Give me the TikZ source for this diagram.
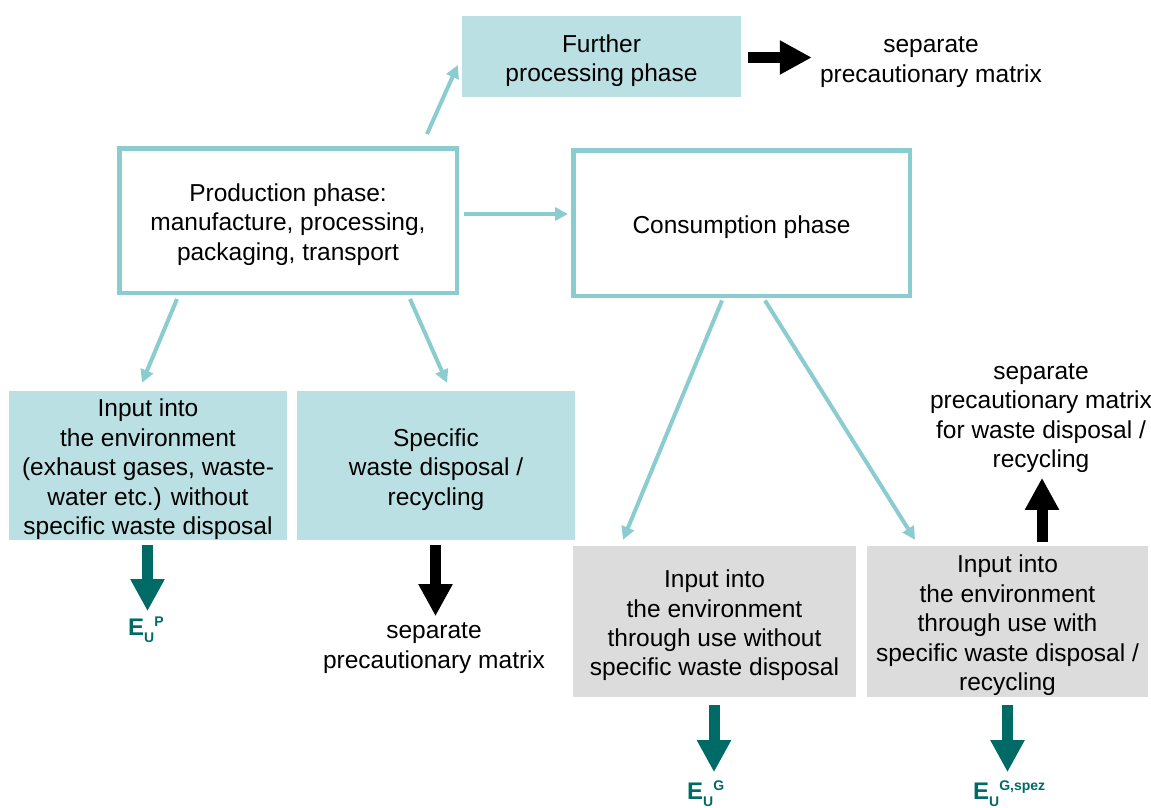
\documentclass[tikz,border=0pt]{standalone}
\usepackage{fontspec}
\setmainfont{Liberation Sans}
\usetikzlibrary{arrows.meta,calc}

\definecolor{boxfill}{HTML}{BBE0E3}
\definecolor{boxline}{HTML}{8ACCCF}
\definecolor{grayfill}{HTML}{DCDCDC}
\definecolor{darkteal}{HTML}{006A66}

% E_U with a superscript, set in bold dark teal
\newcommand{\eulabel}[1]{{\fontsize{24}{24}\selectfont\bfseries E}%
  {\fontsize{14}{14}\selectfont\bfseries\raisebox{-7.5pt}{U}\raisebox{9pt}{#1}}}
% tall strut on the first line so box texts sit a little lower
\newcommand{\topstrut}{\rule{0pt}{25.5pt}}

\tikzset{
  txt/.style={font=\fontsize{24.5}{29.4}\selectfont, align=center, inner sep=0pt},
  outlinebox/.style={txt, draw=boxline, line width=4.5pt, fill=white},
  tealbox/.style={txt, fill=boxfill},
  greybox/.style={txt, fill=grayfill},
  flow/.style={draw=boxline, line width=4pt, -{Triangle[length=13pt,width=13pt]}},
  blockarrow/.style={line width=11pt, -{Triangle[length=32pt,width=32pt]}},
  elabel/.style={text=darkteal, inner sep=0pt, anchor=base west}
}

\begin{document}
\begin{tikzpicture}[x=1pt,y=-1pt]
\useasboundingbox (0,0) rectangle (1151,808);

% phase boxes
\node[outlinebox, minimum width=337.5, minimum height=144.5] (prod) at (288,220.5)
  {\topstrut Production phase:\\manufacture, processing,\\packaging, transport};
\node[outlinebox, minimum width=336.5, minimum height=145.5] (cons) at (741.5,223)
  {\topstrut Consumption phase};
\node[tealbox, minimum width=279, minimum height=81] (further) at (601.5,56.5)
  {\topstrut Further\\processing phase};

% outputs of the production phase
\node[tealbox, minimum width=278, minimum height=149] (inenv) at (148,465.5)
  {\topstrut Input into\\the environment\\(exhaust gases, waste-\\water etc.) without\\specific waste disposal};
\node[tealbox, minimum width=278, minimum height=149] (spec) at (436,465.5)
  {\topstrut Specific\\waste disposal /\\recycling};

% outputs of the consumption phase
\node[greybox, minimum width=283, minimum height=151] (gray1) at (714.5,621.5)
  {\topstrut Input into\\the environment\\through use without\\specific waste disposal};
\node[greybox, minimum width=281, minimum height=151] (gray2) at (1007.5,621.5)
  {\topstrut Input into\\the environment\\through use with\\specific waste disposal /\\recycling};

% separate matrices
\node[txt] (sepTop) at (931,62) {separate\\precautionary matrix};
\node[txt] (sepMid) at (434,648) {separate\\precautionary matrix};
\node[txt] (sepRight) at (1041,418) {separate\\precautionary matrix\\for waste disposal /\\recycling};

% emission labels
\node[elabel] (EP) at (128,635) {\eulabel{P}};
\node[elabel] (EG) at (687,799) {\eulabel{G}};
\node[elabel] (EGs) at (973,799) {\eulabel{G,spez}};

% thin flow arrows
\draw[flow] ($(prod.north)+(139,-12)$) -- ($(further.west)+(-4,8.5)$);
\draw[flow] ($(prod.east)+(5,-6.5)$) -- ($(cons.west)+(-3,-9)$);
\draw[flow] ($(prod.south)+(-111,4)$) -- ($(inenv.north)+(-6,-8)$);
\draw[flow] ($(prod.south)+(122,4)$) -- ($(spec.north)+(11,-8)$);
\draw[flow] ($(cons.south)+(-19.5,2.5)$) -- ($(gray1.north)+(-91.5,-6)$);
\draw[flow] ($(cons.south)+(23.5,2.5)$) -- ($(gray2.north)+(-92.5,-6)$);

% block arrows
\draw[blockarrow, black] ($(further.east)+(7,1)$) -- ($(further.east -| sepTop.west)+(-8,1)$);
\draw[blockarrow, darkteal] ($(inenv.south)+(-0.5,5)$) -- ($(inenv.south)+(-0.5,71)$);
\draw[blockarrow, black] ($(spec.south)+(-0.5,5)$) -- ($(spec.south)+(-0.5,76)$);
\draw[blockarrow, black] ($(gray2.north)+(34.5,-4)$) -- ($(gray2.north)+(34.5,-68)$);
\draw[blockarrow, darkteal] ($(gray1.south)+(-0.5,8)$) -- ($(gray1.south)+(-0.5,75)$);
\draw[blockarrow, darkteal] ($(gray2.south)+(0,8)$) -- ($(gray2.south)+(0,75)$);
\end{tikzpicture}
\end{document}
